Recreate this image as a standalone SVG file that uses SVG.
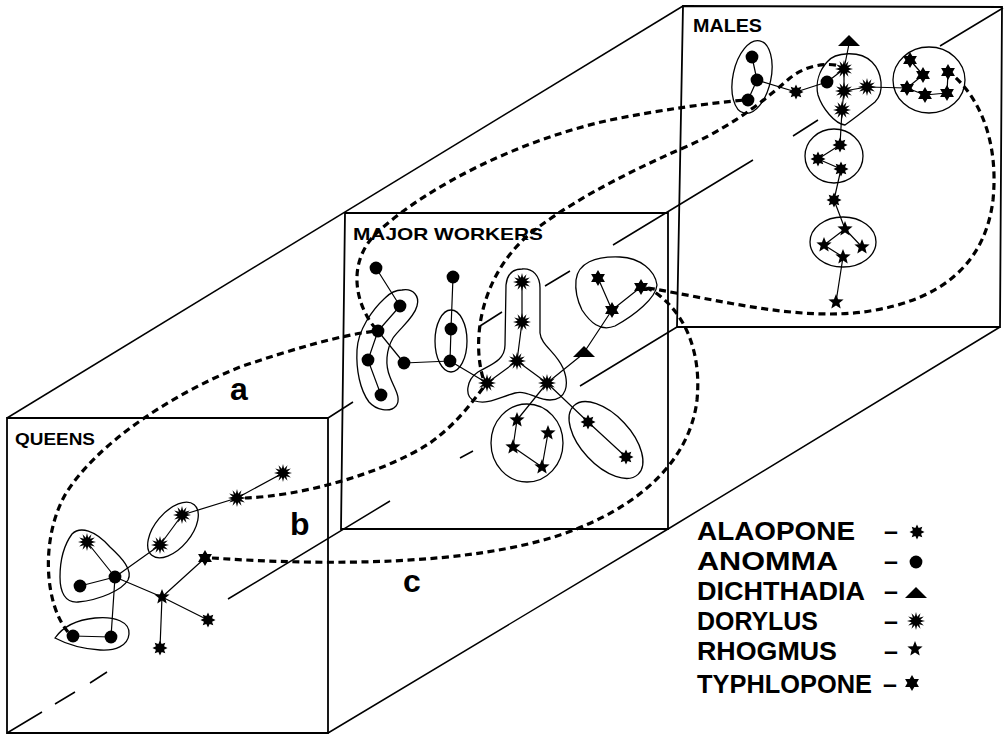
<svg xmlns="http://www.w3.org/2000/svg" width="1006" height="735" viewBox="0 0 1006 735">
<style>
.edge{fill:none;stroke:#000;stroke-width:1.5}
.frame{fill:none;stroke:#000;stroke-width:1.8}
.blob{fill:none;stroke:#000;stroke-width:1.3}
.ln{fill:none;stroke:#000;stroke-width:1.2}
.dash{fill:none;stroke:#000;stroke-width:3.2;stroke-dasharray:7 4.5}
.lbl{font-family:"Liberation Sans",Arial,sans-serif;font-weight:bold;fill:#000}
</style>
<defs>
<path id="dor" d="M0,-9 L1.16,-4.35 L4.5,-7.79 L3.18,-3.18 L7.79,-4.5 L4.35,-1.16 L9,0 L4.35,1.16 L7.79,4.5 L3.18,3.18 L4.5,7.79 L1.16,4.35 L0,9 L-1.16,4.35 L-4.5,7.79 L-3.18,3.18 L-7.79,4.5 L-4.35,1.16 L-9,0 L-4.35,-1.16 L-7.79,-4.5 L-3.18,-3.18 L-4.5,-7.79 L-1.16,-4.35 Z"/>
<path id="ala" d="M0,-7.5 L1.68,-4.07 L5.3,-5.3 L4.07,-1.68 L7.5,0 L4.07,1.68 L5.3,5.3 L1.68,4.07 L0,7.5 L-1.68,4.07 L-5.3,5.3 L-4.07,1.68 L-7.5,0 L-4.07,-1.68 L-5.3,-5.3 L-1.68,-4.07 Z"/>
<path id="typ" d="M0,-8 L2.31,-4 L6.93,-4 L4.62,0 L6.93,4 L2.31,4 L0,8 L-2.31,4 L-6.93,4 L-4.62,0 L-6.93,-4 L-2.31,-4 Z"/>
<path id="rho" d="M0,-8 L2.06,-2.83 L7.61,-2.47 L3.33,1.08 L4.7,6.47 L0,3.5 L-4.7,6.47 L-3.33,1.08 L-7.61,-2.47 L-2.06,-2.83 Z"/>
<circle id="dot" r="6.4"/>
<path id="tri" d="M-11,5 L11,5 L0,-6 Z"/>
</defs>
<rect width="1006" height="735" fill="#fff"/>

<g id="box">
<path class="edge" d="M7,418 L683,6"/>
<path class="edge" d="M328,733 L668,529 L1000,327"/>
<path class="edge" d="M328,418 L353,402 M480,326 L502,312 M545,286 L570,271 M613,245 L753,160 M793,136 L818,120 M940,46 L1003,8"/>
<path class="edge" d="M7,733 L42,712 M55,704 L75,692 M90,683 L107,672 M228,599 L390,501 M460,458 L473,451 M580,386 L677,327"/>
<path class="frame" d="M7,418 L328,418 L328,733 L7,733 Z"/>
<path class="frame" d="M345,213 L668,213 L668,529 L341,529 Z"/>
<path class="frame" d="M683,6 L1002,7 L1000,327 L677,327 Z"/>
</g>

<g id="connectors">
<path class="ln" d="M87,542 L115,577 M80,586 L115,577 M115,577 L111,637 M73,636 L111,637 M115,577 L160,545 M160,545 L182,515 M182,515 L237,498 M237,498 L283,473 M115,577 L162,597 M162,597 L205,558 M162,597 L208,620 M162,597 L160,648"/>
<path class="ln" d="M376,268 L400,306 M400,306 L378,331 M378,331 L368,360 M368,360 L381,395 M378,331 L404,363 M404,363 L450,361 M453,277 L451,329 M451,329 L450,361 M450,361 L487,383 M522,282 L522,322 M522,322 L517,361 M517,361 L487,383 M517,361 L547,383 M547,383 L583,354 M583,354 L612,310 M598,278 L612,310 M612,310 L641,287 M547,383 L517,420 M547,383 L588,422 M517,420 L513,447 M513,447 L542,467 M542,467 L548,433 M588,422 L626,457"/>
<path class="ln" d="M752,57 L757,80 M757,80 L748,100 M757,80 L796,92 M796,92 L827,82 M827,82 L844,69 M849,44 L844,69 M844,69 L844,91 M844,91 L842,110 M844,91 L867,87 M867,87 L907,88 M842,110 L840,145 M840,145 L818,159 M818,159 L841,169 M841,169 L834,200 M834,200 L845,229 M845,229 L824,245 M845,229 L862,247 M824,245 L843,257 M843,257 L836,302 M910,60 L923,75 M923,75 L907,88 M948,72 L947,93 M907,88 L925,95 M925,95 L947,93"/>
<path id="curve-a1" class="dash" d="M68,632 C45,605 40,540 65,495 C95,445 170,395 240,367 C290,350 340,335 376,331"/>
<path id="curve-a2" class="dash" d="M376,329 C355,305 345,260 380,230 C430,185 520,140 610,120 C660,110 710,103 745,100"/>
<path id="curve-b1" class="dash" d="M245,498 C300,496 380,475 430,443 C455,425 470,405 483,388"/>
<path id="curve-b2" class="dash" d="M483,378 C472,340 480,280 525,238 C560,208 620,175 690,145 C740,122 770,95 790,78 C805,66 825,62 840,66"/>
<path id="curve-c" class="dash" d="M212,558 C330,566 470,565 560,535 C640,508 690,460 697,400 C701,360 690,320 660,296 C655,292 650,289 646,288"/>
<path id="curve-loop" class="dash" d="M648,288 C720,300 800,322 870,311 C940,300 985,265 993,200 C998,150 985,105 955,77"/>
</g>

<g id="queens">
<g id="q-cluster1">
<path class="blob" d="M72,534 C80,526 95,530 110,547 C122,558 133,570 128,580 C122,590 100,600 78,602 C65,603 60,592 60,577 C60,560 64,545 72,534 Z"/>
<use href="#dor" x="87" y="542"/><use href="#dot" x="80" y="586"/><use href="#dot" x="115" y="577"/>
</g>
<g id="q-cluster2">
<ellipse class="blob" cx="173" cy="530" rx="33" ry="18" transform="rotate(-50 173 530)"/>
<use href="#dor" x="182" y="515"/><use href="#dor" x="160" y="545"/>
</g>
<g id="q-cluster3">
<path class="blob" d="M55,638 C62,628 75,620 95,618 C115,616 130,622 129,634 C128,646 115,651 100,650 C85,649 70,646 55,638 Z"/>
<use href="#dot" x="73" y="636"/><use href="#dot" x="111" y="637"/>
</g>
<g id="q-singles">
<use href="#dor" x="237" y="498"/><use href="#dor" x="283" y="473"/>
<use href="#typ" x="205" y="558"/><use href="#rho" x="162" y="597"/>
<use href="#ala" x="208" y="620"/><use href="#ala" x="160" y="648"/>
</g>
<text class="lbl" x="15" y="445" font-size="17" textLength="80" lengthAdjust="spacingAndGlyphs">QUEENS</text>
</g>

<g id="workers">
<g id="w-anomma1">
<path class="blob" d="M402,290 C413,288 420,296 417,306 C414,318 400,328 393,338 C386,350 385,365 390,377 C394,388 402,398 396,406 C390,413 376,410 369,402 C360,390 356,370 357,350 C358,330 372,310 385,298 C390,293 396,290 402,290 Z"/>
<use href="#dot" x="400" y="306"/><use href="#dot" x="378" y="331"/><use href="#dot" x="368" y="360"/><use href="#dot" x="381" y="395"/>
</g>
<g id="w-anomma2">
<ellipse class="blob" cx="451" cy="341" rx="16" ry="31"/>
<use href="#dot" x="451" y="329"/><use href="#dot" x="450" y="361"/>
</g>
<g id="w-anomma-singles">
<use href="#dot" x="376" y="268"/><use href="#dot" x="404" y="363"/><use href="#dot" x="453" y="277"/>
</g>
<g id="w-dorylus">
<path class="blob" d="M522,269 C533,268 540,276 540,288 L540,333 C541,345 556,352 563,368 C570,385 566,400 550,400 C537,400 528,390 515,393 C500,397 488,405 475,401 C464,397 466,380 478,372 C492,364 505,360 505,345 L506,285 C507,275 512,269 522,269 Z"/>
<use href="#dor" x="522" y="282"/><use href="#dor" x="522" y="322"/><use href="#dor" x="517" y="361"/><use href="#dor" x="487" y="383"/><use href="#dor" x="547" y="383"/>
</g>
<g id="w-typhlopone">
<path class="blob" d="M576,280 C578,263 595,256 620,257 C640,258 655,270 657,285 C656,298 635,315 615,326 C600,332 590,322 582,310 C577,300 575,290 576,280 Z"/>
<use href="#typ" x="598" y="278"/><use href="#typ" x="641" y="287"/><use href="#typ" x="612" y="310"/>
</g>
<g id="w-dichthadia"><use href="#tri" x="584" y="352"/></g>
<g id="w-rhogmus">
<ellipse class="blob" cx="527" cy="443" rx="36" ry="39"/>
<use href="#rho" x="517" y="420"/><use href="#rho" x="548" y="433"/><use href="#rho" x="513" y="447"/><use href="#rho" x="542" y="467"/>
</g>
<g id="w-alaopone">
<ellipse class="blob" cx="606" cy="440" rx="47" ry="25" transform="rotate(47 606 440)"/>
<use href="#ala" x="588" y="422"/><use href="#ala" x="626" y="457"/>
</g>
<text class="lbl" x="353" y="240" font-size="17" textLength="190" lengthAdjust="spacingAndGlyphs">MAJOR WORKERS</text>
</g>

<g id="males">
<g id="m-anomma">
<ellipse class="blob" cx="752" cy="77" rx="19" ry="37" transform="rotate(12 752 77)"/>
<use href="#dot" x="752" y="57"/><use href="#dot" x="757" y="80"/><use href="#dot" x="748" y="100"/>
</g>
<g id="m-alaopone1"><use href="#ala" x="796" y="92"/></g>
<g id="m-dichthadia"><use href="#tri" x="849" y="41"/></g>
<g id="m-dorylus">
<path class="blob" d="M827,62 C835,52 860,50 872,62 C882,72 885,92 875,102 C865,110 855,118 845,125 C835,124 822,108 818,95 C815,82 820,70 827,62 Z"/>
<use href="#dot" x="827" y="82"/><use href="#dor" x="844" y="69"/><use href="#dor" x="844" y="91"/><use href="#dor" x="842" y="110"/><use href="#dor" x="867" y="87"/>
</g>
<g id="m-typhlopone">
<ellipse class="blob" cx="929" cy="80" rx="36" ry="33"/>
<use href="#typ" x="910" y="60"/><use href="#typ" x="923" y="75"/><use href="#typ" x="948" y="72"/><use href="#typ" x="907" y="88"/><use href="#typ" x="925" y="95"/><use href="#typ" x="947" y="93"/>
</g>
<g id="m-alaopone2">
<ellipse class="blob" cx="834" cy="156" rx="29" ry="27"/>
<use href="#ala" x="840" y="145"/><use href="#ala" x="818" y="159"/><use href="#ala" x="841" y="169"/>
</g>
<g id="m-alaopone3"><use href="#ala" x="834" y="200"/></g>
<g id="m-rhogmus">
<ellipse class="blob" cx="843" cy="242" rx="33" ry="25"/>
<use href="#rho" x="845" y="229"/><use href="#rho" x="824" y="245"/><use href="#rho" x="862" y="247"/><use href="#rho" x="843" y="257"/>
</g>
<g id="m-rhogmus2"><use href="#rho" x="836" y="302"/></g>
<text class="lbl" x="693" y="32" font-size="19" textLength="69" lengthAdjust="spacingAndGlyphs">MALES</text>
</g>

<g id="curve-labels">
<text class="lbl" x="230" y="400" font-size="32">a</text>
<text class="lbl" x="290" y="535" font-size="32">b</text>
<text class="lbl" x="403" y="592" font-size="32">c</text>
</g>

<g id="legend">
<text class="lbl" x="697" y="540" font-size="25" textLength="158" lengthAdjust="spacingAndGlyphs">ALAOPONE</text>
<text class="lbl" x="697" y="570" font-size="25" textLength="141" lengthAdjust="spacingAndGlyphs">ANOMMA</text>
<text class="lbl" x="697" y="600" font-size="25" textLength="168" lengthAdjust="spacingAndGlyphs">DICHTHADIA</text>
<text class="lbl" x="697" y="630" font-size="25" textLength="121" lengthAdjust="spacingAndGlyphs">DORYLUS</text>
<text class="lbl" x="697" y="660" font-size="25" textLength="140" lengthAdjust="spacingAndGlyphs">RHOGMUS</text>
<text class="lbl" x="697" y="693" font-size="25" textLength="175" lengthAdjust="spacingAndGlyphs">TYPHLOPONE</text>
<text class="lbl" x="884" y="540" font-size="25">–</text>
<text class="lbl" x="884" y="570" font-size="25">–</text>
<text class="lbl" x="884" y="600" font-size="25">–</text>
<text class="lbl" x="884" y="630" font-size="25">–</text>
<text class="lbl" x="884" y="660" font-size="25">–</text>
<text class="lbl" x="883" y="693" font-size="25">–</text>
<use href="#ala" x="917" y="532"/>
<use href="#dot" x="916" y="562"/>
<use href="#tri" x="916" y="593"/>
<use href="#dor" x="916" y="621"/>
<use href="#rho" x="915" y="649"/>
<use href="#typ" x="912" y="683"/>
</g>
</svg>
